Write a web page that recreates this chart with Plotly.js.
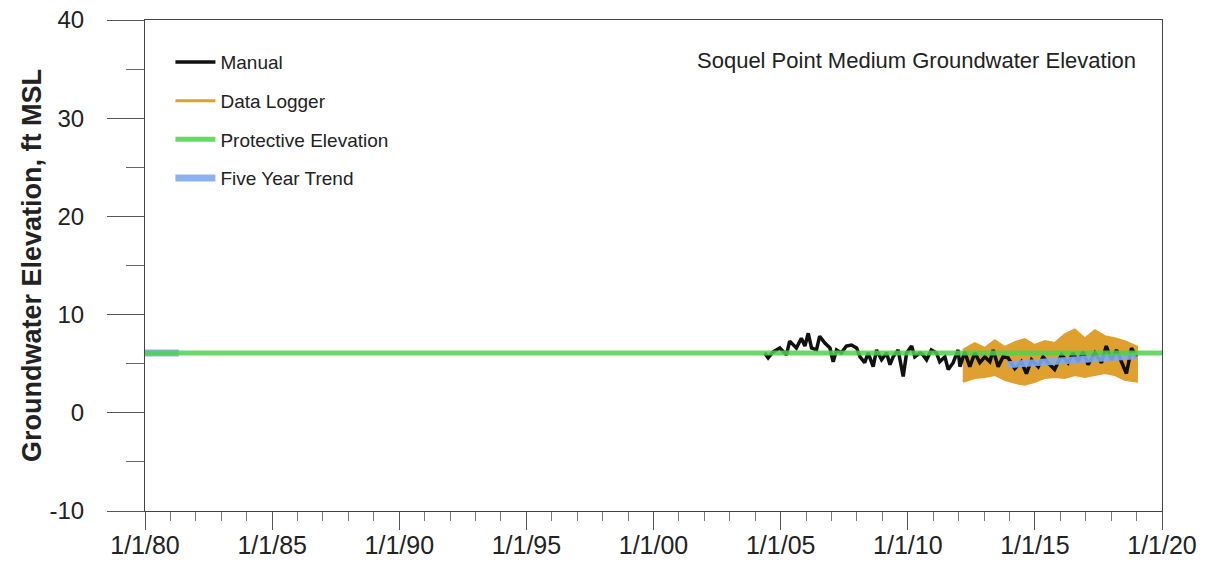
<!DOCTYPE html>
<html>
<head>
<meta charset="utf-8">
<script src="https://cdn.plot.ly/plotly-3.0.1.min.js"></script>
<style>html,body{margin:0;padding:0;background:#fff;}#chart{width:1216px;height:581px;}</style>
</head>
<body>
<div id="chart"></div>
<script>
// Manual measurements (ft MSL)
const manualDates = [
 '2004-05-15','2004-07-05','2004-09-15','2004-12-20','2005-03-25','2005-05-10','2005-08-15','2005-10-25','2005-12-15',
 '2006-02-01','2006-03-20','2006-05-30','2006-07-15','2006-09-28','2006-12-10','2007-01-25','2007-03-15','2007-05-22',
 '2007-08-03','2007-10-15','2007-12-28','2008-02-15','2008-04-22','2008-06-10','2008-08-22','2008-10-10','2008-12-20',
 '2009-03-03','2009-04-20','2009-06-05','2009-08-15','2009-10-27','2009-12-15','2010-02-25','2010-04-12','2010-06-25',
 '2010-08-08','2010-09-28','2010-12-05','2011-02-17','2011-04-05','2011-06-18','2011-08-05','2011-10-15','2011-12-25',
 '2012-01-20','2012-03-28','2012-06-10','2012-08-22','2012-11-01','2013-01-12','2013-03-25','2013-05-12','2013-07-22',
 '2013-10-01','2013-12-12','2014-03-18','2014-06-20','2014-09-01','2014-11-14','2015-02-18','2015-04-28','2015-07-08',
 '2015-10-12','2016-01-20','2016-04-22','2016-07-01','2016-09-12','2016-11-25','2017-02-03','2017-05-12','2017-08-15',
 '2017-10-22','2018-01-05','2018-03-18','2018-05-30','2018-08-08','2018-10-20','2018-12-28'
];
const manualValues = [
 6.1,5.6,6.2,6.6,5.9,7.3,6.6,7.6,6.8,
 8.1,6.6,6.4,7.8,7.1,6.6,5.2,6.4,6.1,
 6.8,6.9,6.6,5.7,5.1,6.1,4.7,6.4,5.4,
 6.1,4.9,5.7,6.4,3.7,6.1,6.8,5.7,6.1,
 5.9,5.4,6.4,6.1,5.2,5.7,4.4,5.1,6.4,
 4.7,6.2,4.7,6.1,5.1,5.7,5.2,6.4,4.7,
 5.7,5.6,4.5,5.2,4.0,5.4,4.7,5.7,5.1,
 4.4,5.9,5.1,6.1,5.2,6.2,4.9,6.1,5.1,
 6.8,5.4,6.4,5.1,4.0,6.6,5.7
];

// Data logger envelope (daily range)
const loggerDates = [
 '2012-03-01','2012-08-20','2013-01-10','2013-06-05','2013-10-25','2014-03-18','2014-08-08','2015-01-01','2015-05-22',
 '2015-10-12','2016-03-05','2016-07-28','2016-12-18','2017-05-12','2017-10-01','2018-02-20','2018-07-15','2019-01-20'
];
const loggerHigh = [6.4,7.1,6.6,7.4,6.7,7.2,7.5,6.9,7.3,7.1,8.0,8.5,7.6,8.4,7.8,7.6,7.3,6.7];
const loggerLow  = [3.2,3.6,3.7,3.9,3.4,3.1,2.9,3.2,3.6,3.7,3.6,3.9,3.7,3.9,4.1,3.9,3.4,3.2];

// Protective elevation
const protectDates = ['1980-01-01','2020-01-01'];
const protectValues = [6.1, 6.1];

// Five year trend
const trendDates = ['1980-01-01','1981-05-01', null, '2013-12-01','2019-01-01'];
const trendValues = [6.1, 6.1, null, 4.9, 5.8];

const xTickFormat = '%-m/%-d/%y';
const yTickVals = [-10, 0, 10, 20, 30, 40];
const yTickText = ['-10', '0', '10', '20', '30', '40'];
const yTitle = 'Groundwater Elevation, ft MSL';
const chartLabel = 'Soquel Point Medium Groundwater Elevation';

const sans = '"Liberation Sans", Arial, sans-serif';
const orange = '#e0a030';

const traces = [
  {x: loggerDates, y: loggerLow, type: 'scatter', mode: 'lines', name: 'Data Logger',
   line: {color: orange, width: 3}, legendrank: 2, legendgroup: 'b', hoverinfo: 'skip'},
  {x: loggerDates, y: loggerHigh, type: 'scatter', mode: 'lines', name: 'Data Logger (high)',
   line: {color: orange, width: 2}, fill: 'tonexty', fillcolor: orange, showlegend: false, legendgroup: 'b'},
  {x: manualDates, y: manualValues, type: 'scatter', mode: 'lines', name: 'Manual',
   line: {color: '#111111', width: 3.5}, legendrank: 1, legendgroup: 'a'},
  {x: trendDates, y: trendValues, type: 'scatter', mode: 'lines', name: 'Five Year Trend',
   line: {color: '#7fa8ee', width: 7}, opacity: 0.9, legendrank: 4, legendgroup: 'd', connectgaps: false},
  {x: protectDates, y: protectValues, type: 'scatter', mode: 'lines', name: 'Protective Elevation',
   line: {color: '#4ed24e', width: 5}, opacity: 0.85, legendrank: 3, legendgroup: 'c'}
];

const layout = {
  width: 1216, height: 581,
  margin: {l: 145, r: 54, t: 20, b: 70},
  paper_bgcolor: '#ffffff', plot_bgcolor: '#ffffff',
  showlegend: true,
  legend: {x: 0.025, y: 0.953, xanchor: 'left', yanchor: 'top', bgcolor: 'rgba(0,0,0,0)',
           font: {family: sans, size: 19, color: '#222'}, tracegroupgap: 11, itemwidth: 40},
  xaxis: {type: 'date', range: ['1980-01-01', '2020-01-01'], tick0: '1980-01-01', dtick: 'M60',
          tickformat: xTickFormat, ticks: 'outside', ticklen: 18, tickwidth: 1, tickcolor: '#555',
          minor: {dtick: 'M12', ticks: 'outside', ticklen: 9, tickcolor: '#777', tickwidth: 1},
          showline: true, linecolor: '#444', linewidth: 1, mirror: true, showgrid: false, zeroline: false,
          ticklabelstandoff: -6,
          tickfont: {family: sans, size: 25, color: '#222'}},
  yaxis: {range: [-10, 40], tickmode: 'array', tickvals: yTickVals, ticktext: yTickText,
          ticks: 'outside', ticklen: 37, tickwidth: 1, tickcolor: '#555',
          minor: {dtick: 5, tick0: 0, ticks: 'outside', ticklen: 18, tickcolor: '#666', tickwidth: 1},
          showline: true, linecolor: '#444', linewidth: 1, mirror: true, showgrid: false, zeroline: false,
          ticklabelstandoff: 18,
          tickfont: {family: sans, size: 24, color: '#222'},
          title: {text: yTitle, font: {family: sans, size: 27, color: '#222', weight: 'bold'}, standoff: 0}},
  annotations: [{text: chartLabel, xref: 'paper', yref: 'paper', x: 0.976, y: 0.9165,
                 xanchor: 'right', yanchor: 'middle', showarrow: false,
                 font: {family: sans, size: 22, color: '#222'}}]
};

Plotly.newPlot('chart', traces, layout, {displayModeBar: false, staticPlot: true});
</script>
</body>
</html>
